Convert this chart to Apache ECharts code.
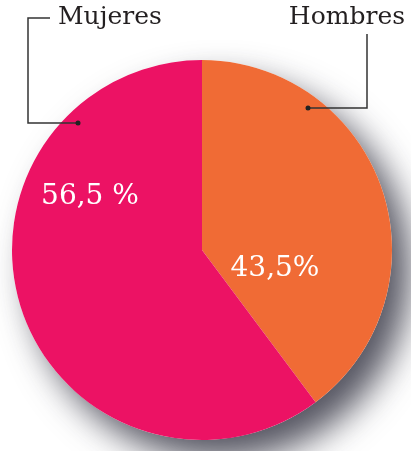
<!DOCTYPE html>
<html>
<head>
<meta charset="utf-8">
<script src="https://cdn.jsdelivr.net/npm/echarts@6/dist/echarts.min.js"></script>
<style>
  html, body { margin: 0; padding: 0; background: #fff; }
  #chart { width: 411px; height: 451px; }
</style>
</head>
<body>
<div id="chart"></div>
<script>
// data (wedge sizes as drawn, labels as printed)
const categories = ['Hombres', 'Mujeres']
const shares = [39.8, 60.2]
const valueLabels = ['43,5%', '56,5 %']
const sliceColors = ['#F06B35', '#EC1264']

const chart = echarts.init(document.getElementById('chart'))
const font = 'DejaVu Serif'

chart.setOption({
  animation: false,
  series: [
    { // shadow under the pie
      type: 'pie',
      silent: true,
      center: [202, 250],
      radius: 190,
      z: 1,
      label: { show: false },
      labelLine: { show: false },
      itemStyle: {
        color: '#fff',
        shadowBlur: 34,
        shadowColor: 'rgba(30,30,45,0.75)',
        shadowOffsetX: 18,
        shadowOffsetY: 20
      },
      data: [1]
    },
    {
      type: 'pie',
      silent: true,
      center: [202, 250],
      radius: 190,
      startAngle: 90,
      clockwise: true,
      z: 2,
      labelLine: { show: false },
      label: {
        show: true,
        position: 'inside',
        color: '#fff',
        fontFamily: font,
        fontSize: 28,
        formatter: p => valueLabels[p.dataIndex]
      },
      labelLayout: function(params) {
        // label spots as printed
        const spots = [[275, 269], [90, 197]]
        const s = spots[params.dataIndex]
        return { x: s[0], y: s[1], align: 'center', verticalAlign: 'middle' }
      },
      data: categories.map((c, i) => ({
        name: c,
        value: shares[i],
        itemStyle: { color: sliceColors[i] }
      }))
    }
  ],
  graphic: [
    { type: 'text', left: 58, top: 5, style: { text: categories[1], font: '25px "DejaVu Serif"', fill: '#231f20' } },
    { type: 'text', right: 6, top: 5, style: { text: categories[0], font: '25px "DejaVu Serif"', fill: '#231f20' } },
    { type: 'polyline', z: 10, shape: { points: [[50, 18], [28, 18], [28, 123], [78, 123]] }, style: { stroke: '#333', lineWidth: 1.5, fill: null } },
    { type: 'circle', z: 10, shape: { cx: 78, cy: 123, r: 2.5 }, style: { fill: '#222' } },
    { type: 'polyline', z: 10, shape: { points: [[367, 34], [367, 108], [308, 108]] }, style: { stroke: '#333', lineWidth: 1.5, fill: null } },
    { type: 'circle', z: 10, shape: { cx: 308, cy: 108, r: 2.5 }, style: { fill: '#222' } }
  ]
})
</script>
</body>
</html>
